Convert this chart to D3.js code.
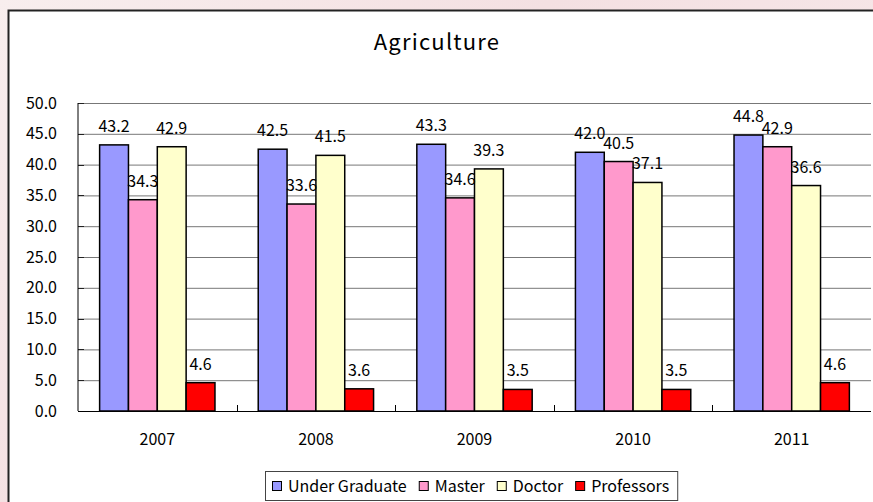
<!DOCTYPE html>
<html>
<head>
<meta charset="utf-8">
<script src="https://cdn.jsdelivr.net/npm/d3@7"></script>
<style>
  html, body { margin: 0; padding: 0; }
  body { width: 873px; height: 502px; overflow: hidden;
         background: linear-gradient(135deg, #f8eeee 0%, #f4e0e2 40%, #f8eced 100%); }
  svg text { font-family: "Noto Sans CJK JP", "DejaVu Sans", sans-serif; fill: #000; }
</style>
</head>
<body>
<div id="main"></div>
<script>
var years = ['2007', '2008', '2009', '2010', '2011'];
var series = ['Under Graduate', 'Master', 'Doctor', 'Professors'];
var underGraduate = [43.2, 42.5, 43.3, 42.0, 44.8];
var master = [34.3, 33.6, 34.6, 40.5, 42.9];
var doctor = [42.9, 41.5, 39.3, 37.1, 36.6];
var professors = [4.6, 3.6, 3.5, 3.5, 4.6];
var yTicks = [0, 5, 10, 15, 20, 25, 30, 35, 40, 45, 50];
var title = 'Agriculture';

var fills = {'Under Graduate': '#9999ff', 'Master': '#ff99cc', 'Doctor': '#ffffcc', 'Professors': '#ff0000'};
var values = {'Under Graduate': underGraduate, 'Master': master, 'Doctor': doctor, 'Professors': professors};

var W = 873, H = 502;
var plot = { left: 78, right: 871, top: 103, bottom: 411 };

var svg = d3.select('#main').append('svg').attr('width', W).attr('height', H);

// chart area
svg.append('rect')
  .attr('x', 8.5).attr('y', 10.5).attr('width', 880).attr('height', 500)
  .attr('fill', '#fff').attr('stroke', '#222').attr('stroke-width', 2);

svg.append('text')
  .attr('x', 437).attr('y', 50).attr('text-anchor', 'middle')
  .style('font-size', '22px').style('letter-spacing', '1.2px').text(title);

var x0 = d3.scaleBand().domain(years).range([plot.left, plot.right]);
var x1 = d3.scaleBand().domain(series).range([0, x0.bandwidth()]).paddingOuter(0.75);
var y = d3.scaleLinear().domain([0, 50]).range([plot.bottom, plot.top]);

// gridlines + y labels
var yAxis = svg.append('g')
  .attr('transform', 'translate(' + plot.left + ',0)')
  .call(d3.axisLeft(y).tickValues(yTicks).tickFormat(d3.format('.1f'))
    .tickSize(-(plot.right - plot.left)).tickPadding(21));
yAxis.select('.domain').remove();
yAxis.selectAll('.tick line').attr('stroke', '#777');
yAxis.selectAll('.tick text').style('font-size', '16px');

// short inner ticks on the value axis
svg.append('g').selectAll('line')
  .data(yTicks).enter().append('line')
  .attr('x1', plot.left).attr('x2', plot.left + 6)
  .attr('y1', function(d) { return Math.round(y(d)) + 0.5; })
  .attr('y2', function(d) { return Math.round(y(d)) + 0.5; })
  .attr('stroke', '#222');

// bars
var groups = svg.append('g').selectAll('g').data(years).enter().append('g')
  .attr('transform', function(d) { return 'translate(' + x0(d) + ',0)'; });

groups.selectAll('rect')
  .data(function(d, i) { return series.map(function(s) { return { s: s, v: values[s][i] }; }); })
  .enter().append('rect')
  .attr('x', function(d) { return x1(d.s); })
  .attr('y', function(d) { return y(d.v); })
  .attr('width', x1.bandwidth())
  .attr('height', function(d) { return y(0) - y(d.v); })
  .attr('fill', function(d) { return fills[d.s]; })
  .attr('stroke', '#000').attr('stroke-width', 1.5);

groups.selectAll('text.lbl')
  .data(function(d, i) { return series.map(function(s) { return { s: s, v: values[s][i] }; }); })
  .enter().append('text').attr('class', 'lbl')
  .attr('x', function(d) { return x1(d.s) + x1.bandwidth() / 2; })
  .attr('y', function(d) { return y(d.v) - 13; })
  .attr('text-anchor', 'middle')
  .style('font-size', '16px')
  .text(function(d) { return d3.format('.1f')(d.v); });

// axes lines
svg.append('line').attr('x1', plot.left).attr('x2', plot.left)
  .attr('y1', plot.top).attr('y2', plot.bottom).attr('stroke', '#000');
svg.append('line').attr('x1', plot.left).attr('x2', plot.right)
  .attr('y1', plot.bottom + 0.5).attr('y2', plot.bottom + 0.5).attr('stroke', '#000');

// category boundary ticks (inside)
svg.append('g').selectAll('line')
  .data(years.slice(1)).enter().append('line')
  .attr('x1', function(d) { return Math.round(x0(d)) + 0.5; })
  .attr('x2', function(d) { return Math.round(x0(d)) + 0.5; })
  .attr('y1', plot.bottom).attr('y2', plot.bottom - 6).attr('stroke', '#000');

var xAxis = svg.append('g')
  .attr('transform', 'translate(0,' + plot.bottom + ')')
  .call(d3.axisBottom(x0).tickSize(0).tickPadding(23));
xAxis.select('.domain').remove();
xAxis.selectAll('.tick text').style('font-size', '16px');

// legend
var legend = svg.append('g').attr('transform', 'translate(265,471)');
var legendBox = legend.append('rect')
  .attr('x', 0.5).attr('y', 0.5).attr('height', 29)
  .attr('fill', '#fff').attr('stroke', '#444');
var lx = 7;
series.forEach(function(s) {
  legend.append('rect')
    .attr('x', lx + 0.5).attr('y', 10.5).attr('width', 9).attr('height', 9)
    .attr('fill', fills[s]).attr('stroke', '#000');
  var t = legend.append('text')
    .attr('x', lx + 16).attr('y', 21)
    .style('font-size', '16px').text(s);
  lx += 16 + t.node().getComputedTextLength() + 12;
});
legendBox.attr('width', lx - 4);
</script>
</body>
</html>
